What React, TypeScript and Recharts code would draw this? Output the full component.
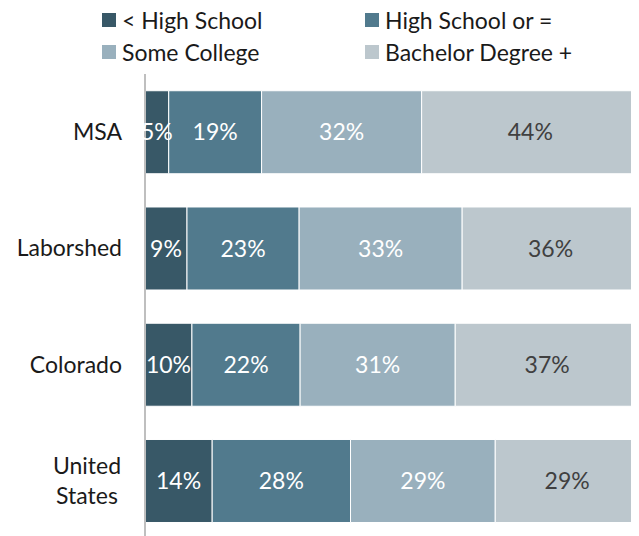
import React from 'react';
import { BarChart, Bar, XAxis, YAxis, Legend, LabelList } from 'recharts';

const categories = ['MSA', 'Laborshed', 'Colorado', 'United States'];
const seriesNames = ['< High School', 'High School or =', 'Some College', 'Bachelor Degree +'];
const lessHighSchool = [4.8, 8.5, 9.5, 13.6];
const highSchool = [18.8, 22.7, 21.9, 28.0];
const someCollege = [32.4, 33.0, 31.4, 29.3];
const bachelor = [44.0, 35.8, 37.2, 29.1];

const keys = ['lhs', 'hs', 'sc', 'ba'];
const colors = ['#385867', '#517a8d', '#99b0bd', '#bcc7cd'];
const labelColors = ['#ffffff', '#ffffff', '#ffffff', '#404040'];

const data = categories.map((name, i) => ({
  name,
  lhs: lessHighSchool[i],
  hs: highSchool[i],
  sc: someCollege[i],
  ba: bachelor[i],
}));

const FONT = 'Lato, "Open Sans", sans-serif';

const CategoryTick = (props: any) => {
  const { x, y, payload } = props;
  const words: string[] = String(payload.value).split(' ');
  const tx = x - 15;
  if (words.length > 1) {
    const lh = 30;
    const start = -((words.length - 1) * lh) / 2;
    return (
      <text x={tx - 35} y={y} textAnchor="middle" fill="#1a1a1a" fontSize={23} fontFamily={FONT}>
        {words.map((w, i) => (
          <tspan key={i} x={tx - 35} y={y + start + i * lh} dy="0.35em">
            {w}
          </tspan>
        ))}
      </text>
    );
  }
  return (
    <text x={tx} y={y} dy="0.35em" textAnchor="end" fill="#1a1a1a" fontSize={23} fontFamily={FONT}>
      {payload.value}
    </text>
  );
};

const LegendContent = () => {
  const pos = [
    { left: 94, top: 12 },
    { left: 357, top: 12 },
    { left: 94, top: 44 },
    { left: 357, top: 44 },
  ];
  return (
    <div style={{ position: 'relative', width: 631, height: 60 }}>
      {seriesNames.map((n, i) => (
        <div
          key={n}
          style={{
            position: 'absolute',
            left: pos[i].left,
            top: pos[i].top - 14,
            height: 28,
            display: 'flex',
            alignItems: 'center',
            fontFamily: FONT,
            fontSize: 23,
            color: '#1a1a1a',
            whiteSpace: 'nowrap',
          }}
        >
          <span style={{ display: 'inline-block', width: 14, height: 14, background: colors[i], marginRight: 6 }} />
          <span>{n}</span>
        </div>
      ))}
    </div>
  );
};

export default function App() {
  return (
    <div>
      <style>{`html, body { overflow: hidden; }`}</style>
      <BarChart
        width={631}
        height={531}
        data={data}
        layout="vertical"
        margin={{ top: 6, right: 0, bottom: 0, left: 0 }}
        barCategoryGap="14.4%"
      >
        <XAxis type="number" domain={[0, 100]} hide />
        <YAxis
          type="category"
          dataKey="name"
          width={137}
          axisLine={{ stroke: '#bfbfbf', strokeWidth: 2 }}
          tickLine={false}
          tick={<CategoryTick />}
          interval={0}
        />
        <Legend
          verticalAlign="top"
          align="left"
          content={<LegendContent />}
          wrapperStyle={{ top: 0, left: 0, width: 631 }}
        />
        {keys.map((k, i) => (
          <Bar
            key={k}
            dataKey={k}
            name={seriesNames[i]}
            stackId="a"
            fill={colors[i]}
            stroke="#ffffff"
            strokeWidth={1}
            isAnimationActive={false}
          >
            <LabelList
              dataKey={k}
              position="center"
              fill={labelColors[i]}
              fontSize={23}
              fontFamily={FONT}
              formatter={(v: any) => `${Math.round(Number(v))}%`}
            />
          </Bar>
        ))}
      </BarChart>
    </div>
  );
}
